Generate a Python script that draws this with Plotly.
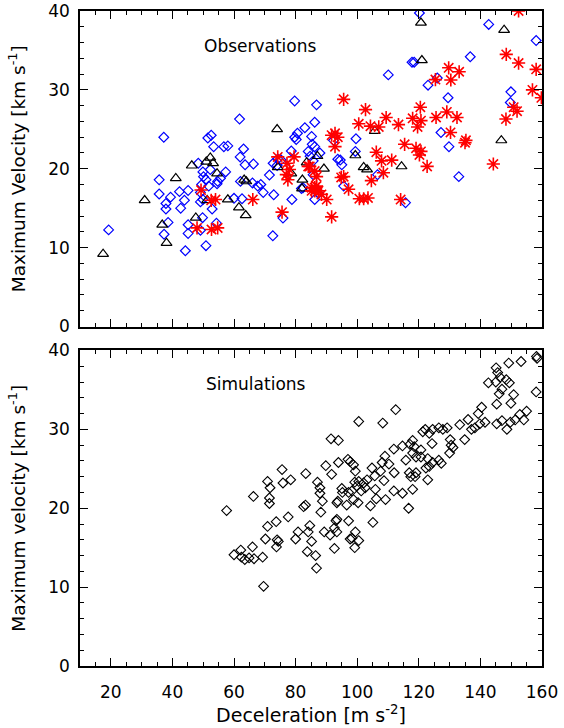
import plotly.graph_objects as go

# ---------------- data ----------------
obs_blue_x = [19.3,37.2,35.7,35.7,37.9,37.9,38.6,37.3,39.4,42.3,43.9,42.7,45.1,45.1,45.1,44.2,48.4,49.9,50.1,51.5,
              52.6,53.4,50.9,51.8,49.5,49.1,49.9,49.1,52.9,49.8,49.1,50.9,54.3,54.7,55.6,57.3,56.7,58.0,54.5,52.3,
              61.8,62.0,63.1,63.6,66.3,60.0,62.6,62.1,67.7,68.7,69.5,72.9,71.5,72.6,75.9,78.6,78.8,72.7,74.0,79.7,
              80.6,80.2,83.0,85.2,86.8,86.2,84.1,84.7,85.4,86.2,85.7,81.9,86.2,87.4,74.2,75.3,66.0,79.7,
              120.2,118.5,117.8,110.1,123.0,126.0,129.5,136.7,142.7,158.1,149.9,149.7,127.2,129.8,133.0,115.7,
              106.6,99.6,99.4,95.6,94.5,93.7,95.0,92.3,87.9,85.7,82.4]
obs_blue_y = [12.25,24.0,18.6,16.8,15.6,14.9,13.2,11.7,16.4,17.1,16.0,15.0,17.25,12.9,11.8,9.6,20.7,19.6,19.0,23.9,
              24.25,22.8,18.6,17.8,18.0,17.0,16.1,15.8,14.9,13.8,12.2,10.25,13.1,18.4,18.8,19.6,22.8,22.9,18.1,19.9,
              26.3,21.5,22.5,20.5,20.6,16.25,16.2,18.4,17.8,18.0,17.0,16.7,19.2,11.5,13.75,22.25,16.1,20.7,20.4,28.6,
              24.5,23.7,25.2,24.1,28.1,25.9,22.2,21.6,23.1,22.8,21.0,17.5,16.1,16.9,21.25,21.1,18.2,24.0,
              39.75,33.5,33.5,31.9,30.6,31.5,29.0,34.2,38.3,36.25,29.75,28.4,24.6,22.8,19.0,15.7,
              19.25,23.8,22.2,17.8,21.1,21.2,20.5,23.6,22.0,19.25,17.6]

obs_red_x = [49.3,48.0,52.7,54.7,52.6,54.0,66.1,75.6,74.2,77.2,79.5,77.0,78.0,77.5,84.6,86.2,85.2,86.2,86.8,
             95.6,102.7,100.5,104.3,107.0,109.4,113.4,118.0,120.5,120.7,119.6,125.6,129.1,132.4,125.4,129.7,133.1,
             130.4,148.4,152.4,158.1,156.9,159.8,150.8,151.9,148.3,144.2,135.3,135.0,130.3,120.2,119.1,120.7,122.7,
             115.4,111.2,107.9,106.2,108.5,104.6,114.1,100.7,102.1,103.5,97.2,94.8,95.6,91.7,91.7,92.8,93.7,92.8,
             86.2,85.2,87.4,90.1,84.1,86.8,88.4,152.4]
obs_red_y = [17.3,12.5,12.3,12.5,16.0,16.1,16.1,14.5,21.5,20.7,21.5,19.25,19.9,18.6,20.3,19.7,17.6,17.2,17.8,
             28.8,27.5,25.7,25.4,25.3,26.5,25.6,26.4,27.8,26.1,25.3,26.5,27.2,26.5,31.3,32.8,32.3,
             31.25,34.5,33.4,32.6,30.0,29.0,27.8,27.3,26.3,20.6,23.6,23.3,24.6,21.75,22.6,22.2,20.3,
             23.1,21.1,21.0,22.1,19.5,18.5,16.1,16.2,16.2,16.3,17.4,18.9,19.0,13.9,24.25,24.5,24.0,22.8,
             17.6,17.2,17.2,16.1,20.3,19.0,16.75,40.0]

obs_tri_x = [17.5,31.0,36.7,38.1,41.1,46.3,47.6,51.0,52.3,53.2,54.5,51.3,58.0,61.6,63.3,64.0,63.8,74.0,74.2,
             82.2,82.1,83.6,87.1,78.6,120.7,121.0,147.7,146.8,105.7,99.4,102.1,103.2,114.4,89.2]
obs_tri_y = [9.2,16.0,12.9,10.6,18.8,20.4,13.8,20.9,21.4,20.7,19.4,16.0,16.1,15.1,18.6,18.4,14.1,25.0,20.2,
             18.6,17.5,20.8,21.6,19.4,38.5,33.75,37.6,23.6,24.8,21.7,20.2,19.9,20.3,20.0]

sim_x = [57.6,60.0,62.2,62.4,63.5,64.9,66.0,66.5,69.3,69.6,66.3,70.2,70.9,73.7,71.5,71.5,70.9,71.7,75.6,75.9,
         78.4,74.0,74.4,73.8,77.6,80.0,80.8,83.3,82.6,83.2,84.1,84.6,85.2,83.8,86.5,86.8,87.1,87.9,87.9,88.7,
         88.2,89.8,91.7,91.5,93.9,93.9,89.3,91.2,92.6,93.1,92.6,93.4,95.2,96.6,97.0,97.2,97.7,
         97.7,98.8,99.4,100.5,108.3,112.5,109.0,108.1,110.3,111.9,114.7,118.0,118.5,117.1,115.8,118.0,120.7,
         121.3,122.1,123.4,124.5,126.5,127.8,129.2,124.3,119.1,120.7,122.9,124.5,126.5,127.3,123.4,122.3,
         119.1,118.8,122.9,118.0,114.7,111.9,109.2,116.7,105.1,130.2,130.5,130.0,131.1,133.3,136.0,134.9,
         137.1,138.2,139.8,141.5,139.3,140.4,145.3,147.0,148.6,149.7,151.3,152.8,154.1,155.0,145.3,146.1,
         147.0,149.9,150.8,142.6,145.0,146.4,148.4,149.4,145.1,145.6,149.2,153.2,158.2,158.4,158.1,
         95.0,93.7,97.2,99.2,99.9,100.5,102.1,102.6,101.3,103.2,104.8,105.7,107.6,108.7,105.9,104.3,106.2,
         98.3,98.8,100.3,93.4,93.4,99.4,98.3,100.5,99.2,116.9,117.4,112.0]
sim_y = [19.7,14.1,14.7,13.8,13.5,13.7,15.1,13.6,13.8,10.1,21.5,16.1,17.7,18.3,21.3,20.6,23.4,22.6,24.9,23.2,
         23.6,16.0,15.8,15.1,18.9,16.1,17.0,24.4,20.2,20.4,17.0,17.8,15.8,14.5,14.0,12.4,23.3,22.6,21.9,20.9,
         19.5,25.4,24.3,28.8,28.6,25.8,17.0,16.6,17.5,18.4,14.9,20.7,22.0,20.4,26.2,18.4,16.1,
         25.9,25.5,24.7,31.0,30.8,32.5,26.6,25.8,25.6,27.5,27.9,28.6,27.8,28.1,26.1,27.0,27.4,
         29.7,30.0,29.5,30.0,30.2,30.0,30.2,28.2,26.5,26.5,26.3,25.8,26.1,25.7,25.3,25.1,
         24.5,24.0,23.6,22.4,21.9,22.2,21.1,20.0,18.2,28.7,28.0,27.0,27.7,30.6,31.25,28.7,
         30.0,30.2,30.7,30.9,32.0,32.8,30.7,31.1,30.0,30.9,31.2,31.9,31.2,32.3,33.2,34.5,
         35.1,33.3,34.4,35.9,36.0,36.6,36.3,35.9,37.8,37.2,38.4,38.6,39.25,39.0,34.75,
         22.5,20.9,22.0,23.3,22.8,23.4,23.2,22.6,22.2,23.6,25.1,24.1,24.7,23.5,22.4,20.3,21.2,
         22.2,21.1,20.7,18.6,17.0,17.0,16.2,15.9,15.0,24.5,24.0,24.5]

x_ticks = [20, 40, 60, 80, 100, 120, 140, 160]
y_ticks = [0, 10, 20, 30, 40]

# ---------------- figure ----------------
FONT = "DejaVu Sans"
TXT = dict(family=FONT, color="black")
fig = go.Figure()

fig.add_trace(go.Scatter(x=obs_blue_x, y=obs_blue_y, mode="markers", xaxis="x", yaxis="y",
                         marker=dict(symbol="diamond-open", size=7.5, color="#0000ff", line=dict(width=1.2, color="#0000ff"))))
fig.add_trace(go.Scatter(x=obs_tri_x, y=obs_tri_y, mode="markers", xaxis="x", yaxis="y",
                         marker=dict(symbol="triangle-up-open", size=9.5, color="black", line=dict(width=1.2, color="black"))))
fig.add_trace(go.Scatter(x=obs_red_x, y=obs_red_y, mode="markers", xaxis="x", yaxis="y",
                         marker=dict(symbol="asterisk-open", size=11, color="#ff0000", line=dict(width=1.6, color="#ff0000"))))
fig.add_trace(go.Scatter(x=sim_x, y=sim_y, mode="markers", xaxis="x2", yaxis="y2",
                         marker=dict(symbol="diamond-open", size=7.5, color="black", line=dict(width=1.1, color="black"))))

def xax(show_labels, title=None, anchor="y"):
    d = dict(range=[10, 160], anchor=anchor, tickmode="array", tickvals=x_ticks, automargin=False,
             showticklabels=show_labels, ticks="inside", ticklen=8, tickwidth=1.2, tickcolor="black",
             ticklabelstandoff=10, ticklabeloverflow="allow",
             minor=dict(dtick=5, tick0=0, ticks="inside", ticklen=4, tickwidth=1.2, tickcolor="black", showgrid=False),
             showline=True, linecolor="black", linewidth=1.5, mirror="allticks", showgrid=False, zeroline=False,
             tickfont=dict(size=17, **TXT))
    if title:
        d["title"] = dict(text=title, font=dict(size=19, **TXT), standoff=2)
    return d

def yax(title, domain, anchor):
    return dict(range=[0, 40], domain=domain, anchor=anchor, tickmode="array", tickvals=y_ticks, automargin=False,
                ticks="inside", ticklen=8, tickwidth=1.2, tickcolor="black", ticklabelstandoff=5,
                ticklabeloverflow="allow",
                minor=dict(dtick=2, tick0=0, ticks="inside", ticklen=4, tickwidth=1.2, tickcolor="black", showgrid=False),
                showline=True, linecolor="black", linewidth=1.5, mirror="allticks", showgrid=False, zeroline=False,
                tickfont=dict(size=17, **TXT),
                title=dict(text=title, font=dict(size=18.5, **TXT), standoff=18))

fig.update_layout(
    width=564, height=728,
    margin=dict(l=80, r=22, t=11, b=62),
    paper_bgcolor="white", plot_bgcolor="white",
    showlegend=False,
    xaxis=xax(False, anchor="y"),
    yaxis=yax("Maximum Velocity [km s<sup>-1</sup>]", [0.5183, 1.0], "x"),
    xaxis2=xax(True, "Deceleration [m s<sup>-2</sup>]", anchor="y2"),
    yaxis2=yax("Maximum velocity [km s<sup>-1</sup>]", [0.0, 0.4817], "x2"),
    annotations=[
        dict(text="Observations", x=68.7, y=35.6, xref="x", yref="y", showarrow=False,
             font=dict(size=17, **TXT)),
        dict(text="Simulations", x=67.0, y=35.75, xref="x2", yref="y2", showarrow=False,
             font=dict(size=17, **TXT)),
    ],
)

fig.write_html("out.html", config={"displayModeBar": False},
               post_script="document.body.style.margin='0px';")
